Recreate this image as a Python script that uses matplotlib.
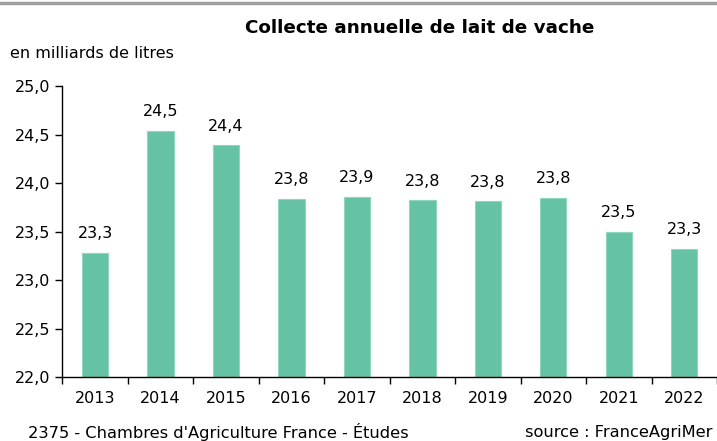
import numpy as np
import matplotlib.pyplot as plt
from matplotlib.lines import Line2D

# Collecte annuelle de lait de vache (milliards de litres)
years = ['2013', '2014', '2015', '2016', '2017', '2018', '2019', '2020', '2021', '2022']
values = [23.28, 24.54, 24.39, 23.84, 23.86, 23.82, 23.81, 23.85, 23.50, 23.32]
labels = ['23,3', '24,5', '24,4', '23,8', '23,9', '23,8', '23,8', '23,8', '23,5', '23,3']
yticks = [22.0, 22.5, 23.0, 23.5, 24.0, 24.5, 25.0]

plt.rcParams['font.family'] = 'DejaVu Sans'

fig = plt.figure(figsize=(7.17, 4.41), dpi=100)
ax = fig.add_axes([0.087, 0.145, 0.913, 0.66])

x = np.arange(len(years))
ax.bar(x, [v - 22 for v in values], bottom=22, width=0.4,
       color='#66C2A5', edgecolor='#8fd6bf', linewidth=0.8)

for xi, v, lab in zip(x, values, labels):
    ax.text(xi, v + 0.12, lab, ha='center', va='bottom', fontsize=11.5)

ax.set_xlim(-0.5, len(years) - 0.5)
ax.set_ylim(22, 25)
ax.set_yticks(yticks)
ax.set_yticklabels([f'{t:.1f}'.replace('.', ',') for t in yticks], fontsize=11.5)

# year labels centred, ticks between categories
ax.set_xticks(x)
ax.set_xticklabels(years, fontsize=11.5)
ax.tick_params(axis='x', length=0, pad=10)
ax.set_xticks(np.arange(-0.5, len(years)), minor=True)
ax.tick_params(axis='x', which='minor', length=5, direction='out', width=1)
ax.tick_params(axis='y', length=5, direction='out', width=1, pad=4)

for s in ['top', 'right']:
    ax.spines[s].set_visible(False)
ax.spines['left'].set_linewidth(1)
ax.spines['bottom'].set_linewidth(1)

fig.text(0.586, 0.936, 'Collecte annuelle de lait de vache', ha='center', va='center',
         fontsize=13.2, fontweight='bold')
fig.text(0.014, 0.878, 'en milliards de litres', ha='left', va='center', fontsize=11.5)
fig.text(0.039, 0.02, "2375 - Chambres d'Agriculture France - Études", ha='left',
         va='center', fontsize=11.7)
fig.text(0.993, 0.02, 'source : FranceAgriMer', ha='right', va='center', fontsize=11.7)

fig.add_artist(Line2D([0, 1], [0.993, 0.993], color='#a0a0a0', linewidth=2.5,
                      transform=fig.transFigure))

fig.savefig('out.png', dpi=100)
